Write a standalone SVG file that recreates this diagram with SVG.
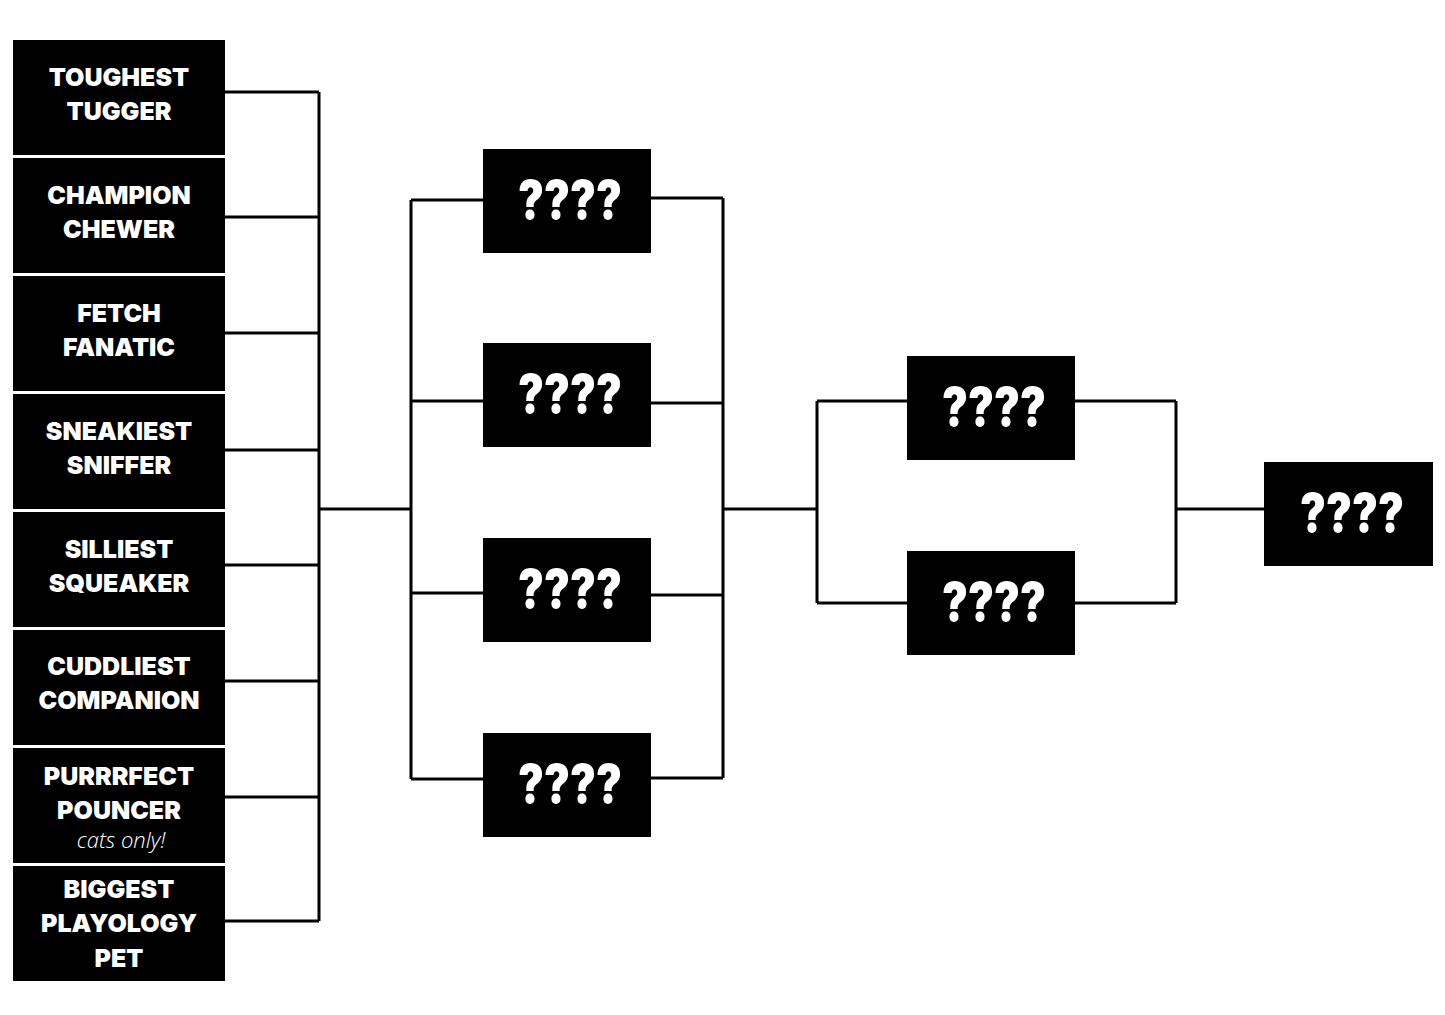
<svg xmlns="http://www.w3.org/2000/svg" width="1445" height="1015" viewBox="0 0 1445 1015">
<style>
.box{fill:#000}
.lbl{font-family:Inter,"Liberation Sans",sans-serif;font-weight:900;font-size:25px;fill:#fff;text-anchor:middle}
.q{font-family:Inter,"Liberation Sans",sans-serif;font-weight:900;font-size:54px;fill:#fff;text-anchor:middle}
.it{font-family:"Open Sans","Liberation Sans",sans-serif;font-style:italic;font-weight:300;font-size:22px;fill:#fff;text-anchor:middle}
.c{fill:none;stroke:#000;stroke-width:3}
</style>
<rect width="1445" height="1015" fill="#fff"/>
<g id="connectors" class="c">
<path d="M225 92H319M225 217H319M225 333H319M225 450H319M225 565H319M225 681H319M225 797H319M225 921H319M319 92V921"/>
<path d="M319 509H411M411 200V779M411 200H483M411 401H483M411 593H483M411 779H483"/>
<path d="M651 198H723M651 403H723M651 595H723M651 778H723M723 198V778M723 509H817"/>
<path d="M817 401V603M817 401H907M817 603H907M1075 401H1176M1075 603H1176M1176 401V603M1176 509H1264"/>
</g>
<g id="n1"><rect class="box" x="13" y="40" width="212" height="115"/><text class="lbl" x="119" y="86">TOUGHEST</text><text class="lbl" x="119" y="120">TUGGER</text></g>
<g id="n2"><rect class="box" x="13" y="158" width="212" height="115"/><text class="lbl" x="119" y="204">CHAMPION</text><text class="lbl" x="119" y="238">CHEWER</text></g>
<g id="n3"><rect class="box" x="13" y="276" width="212" height="115"/><text class="lbl" x="119" y="322">FETCH</text><text class="lbl" x="119" y="356">FANATIC</text></g>
<g id="n4"><rect class="box" x="13" y="394" width="212" height="115"/><text class="lbl" x="119" y="440">SNEAKIEST</text><text class="lbl" x="119" y="474">SNIFFER</text></g>
<g id="n5"><rect class="box" x="13" y="512" width="212" height="115"/><text class="lbl" x="119" y="558">SILLIEST</text><text class="lbl" x="119" y="592">SQUEAKER</text></g>
<g id="n6"><rect class="box" x="13" y="630" width="212" height="115"/><text class="lbl" x="119" y="675">CUDDLIEST</text><text class="lbl" x="119" y="709">COMPANION</text></g>
<g id="n7"><rect class="box" x="13" y="748" width="212" height="115"/><text class="lbl" x="119" y="785">PURRRFECT</text><text class="lbl" x="119" y="819">POUNCER</text><text class="it" x="121" y="848">cats only!</text></g>
<g id="n8"><rect class="box" x="13" y="866" width="212" height="115"/><text class="lbl" x="119" y="898">BIGGEST</text><text class="lbl" x="119" y="932">PLAYOLOGY</text><text class="lbl" x="119" y="967">PET</text></g>
<g id="m1"><rect class="box" x="483" y="149" width="168" height="104"/><text class="q" x="570" y="219" textLength="104" lengthAdjust="spacingAndGlyphs">????</text></g>
<g id="m2"><rect class="box" x="483" y="343" width="168" height="104"/><text class="q" x="570" y="413" textLength="104" lengthAdjust="spacingAndGlyphs">????</text></g>
<g id="m3"><rect class="box" x="483" y="538" width="168" height="104"/><text class="q" x="570" y="608" textLength="104" lengthAdjust="spacingAndGlyphs">????</text></g>
<g id="m4"><rect class="box" x="483" y="733" width="168" height="104"/><text class="q" x="570" y="803" textLength="104" lengthAdjust="spacingAndGlyphs">????</text></g>
<g id="s1"><rect class="box" x="907" y="356" width="168" height="104"/><text class="q" x="994" y="426" textLength="104" lengthAdjust="spacingAndGlyphs">????</text></g>
<g id="s2"><rect class="box" x="907" y="551" width="168" height="104"/><text class="q" x="994" y="621" textLength="104" lengthAdjust="spacingAndGlyphs">????</text></g>
<g id="f"><rect class="box" x="1264" y="462" width="169" height="104"/><text class="q" x="1352" y="532" textLength="104" lengthAdjust="spacingAndGlyphs">????</text></g>
</svg>
